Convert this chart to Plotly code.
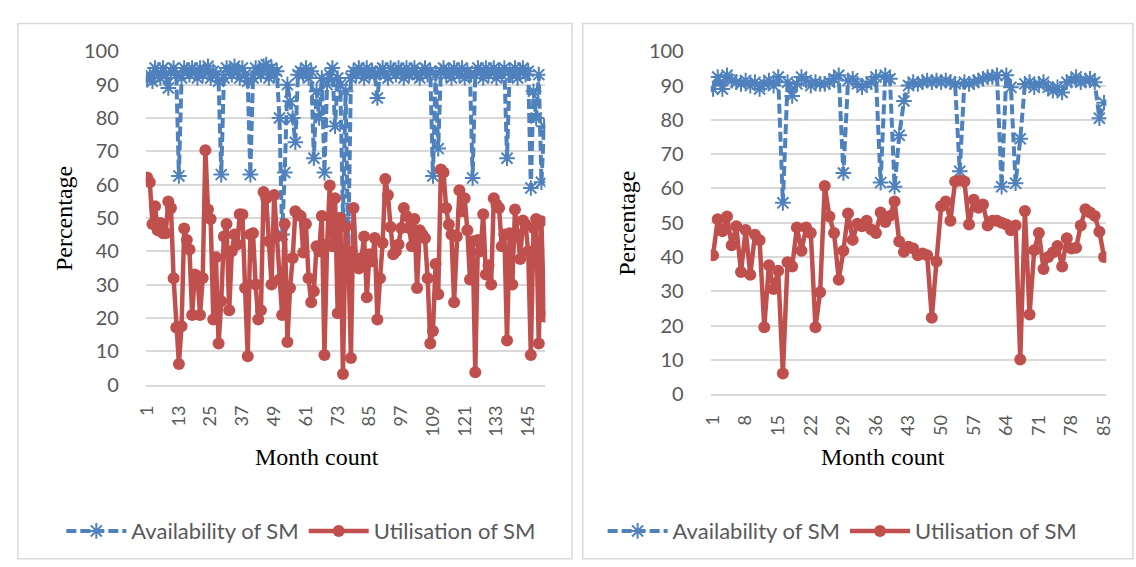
import plotly.graph_objects as go

W, H = 1136, 567

# ---------------- data ----------------
left_avail = [
    91.5, 93, 91, 95, 93.5, 92, 95, 93, 89, 94, 95, 93, 62.6, 92, 95, 94, 93, 95, 94, 92,
    95, 93, 94, 95.5, 92, 94, 93, 91, 63, 92, 95, 94, 93, 95.5, 94, 92, 95, 93, 91, 63,
    92, 95, 94, 93, 95.5, 96, 92, 95, 93, 94, 80, 45, 63.6, 90, 85, 80, 72.7, 93, 94, 93,
    95, 92, 94, 67.9, 88, 80, 92, 63.6, 90, 93, 95, 77.5, 92, 90, 50, 88, 40, 92, 94, 93,
    95, 94, 92, 95, 93, 94, 93, 86, 94, 95, 93, 92, 95, 94, 93, 95, 94, 92, 95, 93,
    94, 95, 93, 92, 94, 95, 93, 94, 62.6, 93, 70.8, 94, 95, 93, 94, 92, 95, 94, 93, 95,
    92, 94, 93, 62, 93, 95, 94, 92, 95, 93, 94, 95, 92, 94, 93, 95, 67.9, 94, 93, 95,
    92, 94, 95, 93, 94, 59, 88, 80, 93, 60.7, 77.5,
]
left_util = [
    62.1, 60.7, 48.2, 53.5, 46.3, 48.5, 45.4, 45.4, 54.9, 53.0, 31.9, 17.1, 6.2, 17.5, 46.8, 43.4, 40.5, 20.9, 33.0, 32.4,
    20.9, 32.0, 70.3, 52.5, 49.7, 19.5, 38.2, 12.3, 25.0, 44.4, 48.2, 22.3, 40.0, 45.0, 42.0, 51.1, 51.0, 29.0, 8.5, 45.0,
    45.4, 30.0, 19.5, 22.3, 57.8, 55.9, 43.0, 30.0, 56.9, 44.4, 31.5, 20.9, 48.2, 12.8, 29.0, 38.0, 52.0, 51.0, 50.6, 39.6,
    48.2, 31.9, 24.7, 28.0, 41.5, 40.0, 50.6, 8.9, 42.0, 59.7, 41.5, 55.9, 21.4, 50.0, 3.2, 47.3, 40.0, 8.0, 53.0, 35.8,
    34.8, 38.0, 44.4, 26.2, 39.1, 37.0, 44.0, 19.5, 31.9, 42.5, 61.7, 56.9, 47.3, 39.1, 40.0, 42.0, 47.0, 53.0, 50.6, 47.0,
    41.5, 49.7, 29.0, 46.3, 45.0, 43.9, 31.9, 12.3, 16.1, 36.2, 27.1, 64.5, 63.6, 53.0, 48.0, 45.0, 24.7, 44.4, 58.3, 52.0,
    55.9, 46.3, 31.5, 43.0, 3.7, 43.4, 40.0, 51.1, 33.0, 35.8, 30.0, 55.9, 54.0, 53.0, 41.5, 45.0, 13.2, 45.4, 30.0, 52.5,
    45.0, 37.7, 49.2, 48.0, 40.0, 8.9, 47.0, 49.7, 12.3, 49.0, 20.4,
]
left_months = list(range(1, len(left_util) + 1))
left_ticks = [1, 13, 25, 37, 49, 61, 73, 85, 97, 109, 121, 133, 145]

right_avail = [
    89, 92.5, 89, 93, 91.5, 91, 90.5, 91.5, 90, 91, 89, 90.5, 91.5, 90, 92.5, 55.8, 91, 87, 90.5, 92.5,
    91.5, 90, 91, 90.5, 90.5, 91, 92, 93, 64.5, 91.5, 92, 90.5, 89.5, 90.5, 91, 92.5, 61.7, 93, 92, 60.5,
    75.5, 85.5, 90, 91, 90.5, 91, 91.5, 91, 91.5, 91, 91.5, 91, 90.5, 65, 91, 90.5, 91, 91.5, 92, 92.5,
    92.5, 93, 60.5, 93, 89.5, 61.5, 74.5, 90.5, 91, 89.5, 90.5, 91, 89.5, 88.5, 89.5, 88, 91, 91.5, 92.5, 91,
    91.5, 92, 91, 80.5, 85,
]
right_util = [
    40.5, 51, 47.5, 51.8, 43.4, 49, 35.6, 47.9, 34.8, 46.5, 44.9, 19.5, 37.6, 30.7, 36, 6, 38.5, 37.2, 48.6, 41.8,
    48.6, 47, 19.5, 29.7, 60.7, 51.8, 47, 33.4, 41.8, 52.7, 45, 49.7, 49, 50.6, 48, 47, 53, 50.2, 52, 56.2,
    44.5, 41.5, 43, 42.5, 40.5, 41, 40.5, 22.3, 38.7, 54.8, 56.2, 50.6, 62, 62.3, 62, 49.5, 56.7, 54.4, 55.3, 49.2,
    50.6, 50.6, 50, 49.5, 47.8, 49.2, 10.1, 53.4, 23.2, 42, 47, 36.5, 40, 41.3, 43.2, 37.2, 45.5, 42.5, 42.7, 49.2,
    53.9, 53, 52, 47.4, 40,
]
right_months = list(range(1, len(right_util) + 1))
right_ticks = [1, 8, 15, 22, 29, 36, 43, 50, 57, 64, 71, 78, 85]

series_names = ["Availability of SM", "Utilisation of SM"]

# ---------------- style ----------------
BLUE = "#4F81BD"
RED = "#C0504D"
GRID = "#d9d9d9"
TXT = "#595959"
SANS = "Lato, 'Open Sans', sans-serif"
SERIF = "'Liberation Serif', 'Times New Roman', serif"


def px(x):
    return x / W


def py(y):
    return 1 - y / H


fig = go.Figure()


def add_pair(months, avail, util, xa, ya, legend):
    fig.add_trace(go.Scatter(
        x=months, y=avail, name=series_names[0], mode="lines+markers",
        xaxis=xa, yaxis=ya, legend=legend,
        line=dict(color=BLUE, width=4, dash="10px,4px"),
        marker=dict(symbol="asterisk-open", size=13, color=BLUE,
                    line=dict(color=BLUE, width=2)),
    ))
    fig.add_trace(go.Scatter(
        x=months, y=util, name=series_names[1], mode="lines+markers",
        xaxis=xa, yaxis=ya, legend=legend,
        line=dict(color=RED, width=4.5),
        marker=dict(symbol="circle", size=12, color=RED),
    ))


add_pair(left_months, left_avail, left_util, "x", "y", "legend")
add_pair(right_months, right_avail, right_util, "x2", "y2", "legend2")

common_x = dict(
    tickangle=-90, showgrid=False, zeroline=False,
    showline=True, linecolor=GRID, linewidth=1.5,
    ticks="outside", ticklen=12, tickcolor="rgba(0,0,0,0)",
    tickfont=dict(family=SANS, size=18, color=TXT),
)
common_y = dict(
    range=[0, 100], dtick=10, showgrid=True, gridcolor=GRID, gridwidth=1.5,
    zeroline=False, showline=False,
    ticks="outside", ticklen=22, tickcolor="rgba(0,0,0,0)",
    tickfont=dict(family=SANS, size=20, color=TXT),
)

legend_style = dict(orientation="h", xanchor="center", y=py(541), yanchor="middle",
                    font=dict(family=SANS, size=22, color=TXT), itemwidth=60,
                    tracegroupgap=0, bgcolor="rgba(0,0,0,0)")

fig.update_layout(
    width=W, height=H,
    margin=dict(l=0, r=0, t=0, b=0),
    paper_bgcolor="white", plot_bgcolor="white",
    xaxis=dict(domain=[px(137), px(543)], range=[0.5, len(left_months) + 0.5],
               tickmode="array", tickvals=left_ticks, ticktext=[str(t) for t in left_ticks],
               anchor="y", **common_x),
    yaxis=dict(domain=[py(388), py(40)], anchor="x", **common_y),
    xaxis2=dict(domain=[px(711), px(1113)], range=[0.5, len(right_months) + 0.5],
                tickmode="array", tickvals=right_ticks, ticktext=[str(t) for t in right_ticks],
                anchor="y2", **common_x),
    yaxis2=dict(domain=[py(398), py(40)], anchor="x2", **common_y),
    legend=dict(x=px(295), **legend_style),
    legend2=dict(x=px(845), **legend_style),
    showlegend=True,
)

annotations = [
    dict(text="Percentage", x=px(54), y=py(215), textangle=-90),
    dict(text="Percentage", x=px(626), y=py(220), textangle=-90),
    dict(text="Month count", x=px(311), y=py(464)),
    dict(text="Month count", x=px(886), y=py(464)),
]
for a in annotations:
    fig.add_annotation(xref="paper", yref="paper", showarrow=False,
                       xanchor="center", yanchor="middle",
                       font=dict(family=SERIF, size=24, color="black"), **a)

# chart-area borders
fig.add_shape(type="rect", xref="paper", yref="paper",
              x0=px(7), x1=px(570), y0=py(570), y1=py(11),
              line=dict(color=GRID, width=1.5))
fig.add_shape(type="rect", xref="paper", yref="paper",
              x0=px(581), x1=px(1140), y0=py(570), y1=py(11),
              line=dict(color=GRID, width=1.5))

fig.write_html("out.html")
